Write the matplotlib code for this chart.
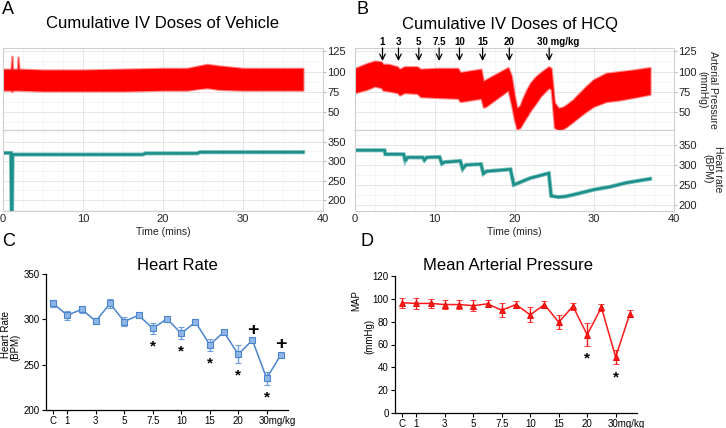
import matplotlib.pyplot as plt
import matplotlib.transforms as mtransforms
from matplotlib.ticker import MultipleLocator

plt.rcParams['font.family'] = ['Liberation Sans', 'DejaVu Sans']

# ---- A: vehicle recording (envelope of the pressure trace, heart rate trace) ----
veh_bp_t = [0, 1.0, 1.1, 1.2, 1.8, 1.9, 2.0, 5, 10, 15, 20, 23, 24.5, 25.5, 27, 30, 34, 37.5]
veh_bp_hi = [103, 103, 119, 103, 103, 118, 103, 102, 102, 103, 104, 104, 107, 109, 107, 104, 104, 104]
veh_bp_lo = [77, 77, 75, 77, 77, 77, 77, 76, 76, 76, 77, 77, 79, 80, 78, 77, 77, 77]
veh_hr_t = [0, 1.0, 1.08, 1.12, 1.2, 17.5, 17.8, 24.3, 24.6, 37.5]
veh_hr = [321, 321, 150, 150, 317, 317, 320, 320, 323, 323]

# ---- B: HCQ recording ----
hcq_bp_t = [0, 1.5, 2.5, 3.3, 3.5, 4.2, 5.3, 5.6, 6.2, 7.8, 8.2, 10.3, 12.9, 13.2, 15.8, 16.1,
            16.4, 19.2, 19.6, 20.0, 20.3, 20.7, 21.0, 21.5, 22.0, 22.6, 23.3, 24.3, 24.6,
            25.0, 25.5, 26.0, 26.5, 27.3, 28.2, 29.0, 29.9, 31.5, 33.2, 34.9, 37.0]
hcq_bp_hi = [104, 110, 113, 112, 109, 109, 106, 103, 106, 106, 103, 104, 104, 99, 103, 88,
             90, 105, 95, 70, 55, 58, 66, 77, 86, 93, 99, 106, 104,
             62, 55, 56, 59, 65, 74, 82, 90, 98, 100, 102, 105]
hcq_bp_lo = [74, 78, 82, 80, 77, 76, 74, 71, 74, 73, 69, 68, 67, 63, 67, 56,
             57, 77, 60, 40, 29, 31, 36, 44, 52, 60, 70, 80, 78,
             31, 28, 29, 32, 38, 45, 51, 57, 63, 65, 68, 72]
hcq_hr_t = [0, 3.7, 3.8, 6.1, 6.3, 6.6, 8.5, 8.7, 9.0, 10.6, 10.9, 11.2, 13.2, 13.5, 13.9,
            15.8, 16.1, 16.5, 19.5, 19.9, 20.3, 22, 24.3, 24.6, 25.5, 26.5, 28, 30, 32, 34, 37]
hcq_hr = [337, 337, 327, 327, 310, 319, 319, 312, 319, 320, 303, 307, 310, 290, 300,
          302, 278, 284, 289, 250, 253, 267, 279, 222, 219, 221, 228, 238, 245, 255, 265]

dose_times = [3.45, 5.45, 8.0, 10.55, 13.1, 16.0, 19.35, 24.35]
dose_labels = ['1', '3', '5', '7.5', '10', '15', '20', '30 mg/kg']

# ---- C / D: summary means +/- SEM ----
step_labels = ['C', '1', '', '3', '', '5', '', '7.5', '', '10', '', '15', '', '20', '', '30mg/kg', '']
hr_mean = [317.5, 304.5, 311, 298, 317.5, 297.5, 304.5, 290, 300.5, 284.5, 297, 272, 286, 261.5, 277, 235, 261]
hr_err = [4, 5, 3.5, 3, 4.5, 5, 2, 6, 2, 6.5, 2, 6.5, 2, 10, 2, 7, 2]
hr_star = [7, 9, 11, 13, 15]
hr_plus = [14, 16]

map_mean = [96.5, 96, 96, 95, 95, 94, 95.6, 90, 95, 86, 95, 79.5, 93.5, 68.5, 92.5, 49, 87]
map_err = [4.5, 5, 4, 4, 4, 5, 3, 6, 3, 6.5, 3, 6, 3, 10, 3.4, 6.5, 3]
map_star = [13, 15]

W, H = 726, 428
fig = plt.figure(figsize=(W / 100, H / 100), dpi=100)


def box(x0, y0, x1, y1):
    # pixel box (from top-left) -> figure fraction
    return [x0 / W, 1 - y1 / H, (x1 - x0) / W, (y1 - y0) / H]


def trace_pair(x0, x1, bp_t, bp_lo, bp_hi, hr_t, hr, hr_lim):
    ax_bp = fig.add_axes(box(x0, 48, x1, 130))
    ax_hr = fig.add_axes(box(x0, 130, x1, 211))
    # soft halo then solid band, like the sampled pressure trace
    ax_bp.fill_between(bp_t, bp_lo, bp_hi, color='#ff0000', lw=1.6, edgecolor='#ff8a8a')
    ax_bp.fill_between(bp_t, bp_lo, bp_hi, color='#ff0000', lw=0)
    ax_hr.plot(hr_t, hr, color='#7cc2be', lw=3.0, solid_joinstyle='miter')
    ax_hr.plot(hr_t, hr, color='#1d8f8a', lw=1.8, solid_joinstyle='miter')
    ax_bp.set_ylim(28, 129)
    ax_hr.set_ylim(*hr_lim)
    for ax in (ax_bp, ax_hr):
        ax.set_xlim(0, 40)
        ax.xaxis.set_major_locator(MultipleLocator(10))
        ax.xaxis.set_minor_locator(MultipleLocator(2.5))
        ax.yaxis.tick_right()
        ax.tick_params(axis='y', which='major', length=2, labelsize=8, pad=1,
                       color='#bbbbbb', labelcolor='#222222')
        ax.tick_params(axis='y', which='minor', length=0)
        ax.tick_params(axis='x', which='both', length=0)
        ax.grid(which='major', color='#e2e2e2', lw=0.6)
        ax.grid(which='minor', color='#f2f2f2', lw=0.5)
        ax.set_axisbelow(True)
        for s in ax.spines.values():
            s.set_color('#cfcfcf')
            s.set_linewidth(0.8)
    ax_bp.set_yticks([50, 75, 100, 125])
    ax_bp.yaxis.set_minor_locator(MultipleLocator(12.5))
    ax_bp.tick_params(axis='x', labelbottom=False)
    ax_hr.set_yticks([200, 250, 300, 350])
    ax_hr.yaxis.set_minor_locator(MultipleLocator(25))
    ax_hr.tick_params(axis='x', labelsize=8, pad=2, labelcolor='#222222')
    fig.text((x0 + x1) / 2 / W, 1 - 232 / H, 'Time (mins)', ha='center', va='center',
             fontsize=7.5, color='#222222')
    return ax_bp, ax_hr


# top row
trace_pair(3, 323, veh_bp_t, veh_bp_lo, veh_bp_hi, veh_hr_t, veh_hr, (172, 380))
bp_b, hr_b = trace_pair(355, 674, hcq_bp_t, hcq_bp_lo, hcq_bp_hi, hcq_hr_t, hcq_hr, (184, 388))

for t, lab in zip(dose_times, dose_labels):
    bp_b.annotate('', xy=(t, 113), xytext=(t, 129),
                  arrowprops=dict(arrowstyle='->', color='black', lw=0.9, shrinkA=0, shrinkB=0))
    if lab.startswith('30'):
        bp_b.annotate(lab, xy=(t, 1), xycoords=('data', 'axes fraction'), xytext=(-9, 4),
                      textcoords='offset points', ha='left', va='center', fontsize=7,
                      fontweight='bold', annotation_clip=False)
    else:
        bp_b.annotate(lab, xy=(t, 1), xycoords=('data', 'axes fraction'), xytext=(0, 4),
                      textcoords='offset points', ha='center', va='center', fontsize=7,
                      fontweight='bold', annotation_clip=False)

fig.text(162 / W, 1 - 24 / H, 'Cumulative IV Doses of Vehicle', ha='center', va='center', fontsize=12)
fig.text(510 / W, 1 - 24 / H, 'Cumulative IV Doses of HCQ', ha='center', va='center', fontsize=12)
fig.text(708 / W, 1 - 90 / H, 'Arterial Pressure\n(mmHg)', rotation=270, ha='center', va='center',
         fontsize=7.5, color='#222222', linespacing=1.1)
fig.text(713 / W, 1 - 169 / H, 'Heart rate\n(BPM)', rotation=270, ha='center', va='center',
         fontsize=7.5, color='#222222', linespacing=1.1)

# bottom row
steps = range(len(step_labels))
tick_pos = [i for i, s in enumerate(step_labels) if s]
tick_lab = [s for s in step_labels if s]


def summary_axes(ax):
    ax.spines['top'].set_visible(False)
    ax.spines['right'].set_visible(False)
    for s in ('left', 'bottom'):
        ax.spines[s].set_linewidth(0.9)
    ax.set_xlim(-0.5, 16.5)
    ax.set_xticks(tick_pos)
    ax.set_xticklabels(tick_lab)
    ax.tick_params(length=3, width=0.8, labelsize=7, pad=1.5)
    last = ax.get_xticklabels()[-1]
    last.set_horizontalalignment('left')
    last.set_transform(last.get_transform() +
                       mtransforms.ScaledTranslation(-6 / 72, 0, fig.dpi_scale_trans))


axc = fig.add_axes(box(46, 274, 288, 410))
axc.errorbar(steps, hr_mean, yerr=hr_err, color='#4b84cf', ecolor='#6e9edb', elinewidth=1,
             capsize=2, capthick=0.9, lw=1.1, marker='s', ms=4.5, mfc='#8fb6e6', mec='#4b84cf', mew=0.8)
axc.set_ylim(200, 350)
axc.set_yticks([200, 250, 300, 350])
summary_axes(axc)
for i in hr_star:
    axc.annotate('*', xy=(i, hr_mean[i] - hr_err[i]), xytext=(0, -9), textcoords='offset points',
                 ha='center', va='center', fontsize=11, fontweight='bold')
for i in hr_plus:
    axc.annotate('+', xy=(i, hr_mean[i] + hr_err[i]), xytext=(0, 6), textcoords='offset points',
                 ha='center', va='center', fontsize=14, fontweight='bold')

axd = fig.add_axes(box(395, 276, 637, 413))
axd.errorbar(steps, map_mean, yerr=map_err, color='#ff1a1a', ecolor='#ff1a1a', elinewidth=1,
             capsize=2, capthick=0.9, lw=1.1, marker='^', ms=4, mfc='#ff1a1a', mec='#e00000', mew=0.6)
axd.set_ylim(0, 120)
axd.set_yticks(range(0, 121, 20))
summary_axes(axd)
for i in map_star:
    axd.annotate('*', xy=(i, map_mean[i] - map_err[i]), xytext=(0, -9), textcoords='offset points',
                 ha='center', va='center', fontsize=11, fontweight='bold')

fig.text(177 / W, 1 - 265 / H, 'Heart Rate', ha='center', va='center', fontsize=12)
fig.text(508 / W, 1 - 265 / H, 'Mean Arterial Pressure', ha='center', va='center', fontsize=12)
fig.text(6 / W, 1 - 334 / H, 'Heart Rate', rotation=90, ha='center', va='center', fontsize=7)
fig.text(15 / W, 1 - 347 / H, '(BPM)', rotation=90, ha='center', va='center', fontsize=7)
fig.text(356 / W, 1 - 301 / H, 'MAP', rotation=90, ha='center', va='center', fontsize=7)
fig.text(369 / W, 1 - 336 / H, '(mmHg)', rotation=90, ha='center', va='center', fontsize=7)

for x, y, letter in [(2, 9, 'A'), (357, 9, 'B'), (2, 242, 'C'), (360, 242, 'D')]:
    fig.text(x / W, 1 - y / H, letter, ha='left', va='center', fontsize=13)

fig.savefig('out.png', dpi=100)
